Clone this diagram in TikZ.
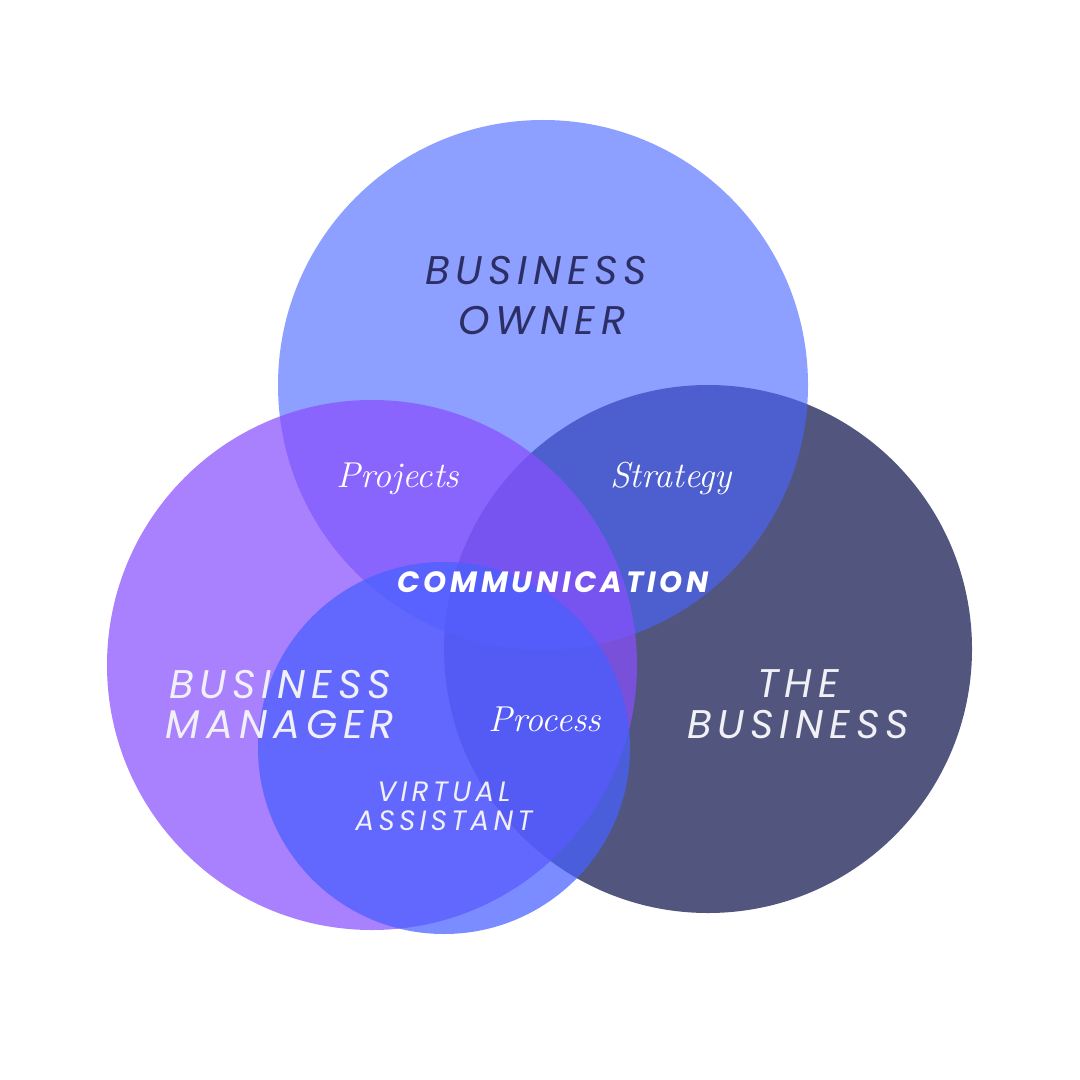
\documentclass[tikz,border=0pt]{standalone}
\usepackage{fontspec}
\newfontfamily\capsfont[LetterSpace=15]{Poppins}
\newfontfamily\commfont[LetterSpace=13]{Poppins}
\newfontfamily\handfont{Latin Modern Roman}
\usetikzlibrary{positioning}

\begin{document}
\begin{tikzpicture}[x=0.75pt,y=0.75pt,yscale=-1,xscale=1,
  biglbl/.style={font=\capsfont\itshape\fontsize{30}{32}\selectfont, text={rgb,255:red,240;green,240;blue,246}, inner sep=0.75pt, anchor=base},
  smalllbl/.style={font=\capsfont\itshape\fontsize{21}{23}\selectfont, text={rgb,255:red,240;green,240;blue,246}, inner sep=0.75pt, anchor=base},
  handlbl/.style={font=\handfont\itshape\fontsize{27}{29}\selectfont, text=white, inner sep=0.75pt, anchor=base}]
%set diagram as a square of 1080
\fill [white] (0,0) rectangle (1080,1080);

%Shape: Circle [the business]
\fill [color={rgb, 255:red, 82; green, 86; blue, 127 }] (708,649) circle (264);
%Shape: Circle [business owner]
\fill [color={rgb, 255:red, 74; green, 102; blue, 255 }, fill opacity=0.62] (543,385) circle (265);
%Shape: Circle [business manager]
\fill [color={rgb, 255:red, 136; green, 79; blue, 253 }, fill opacity=0.72] (372,665) circle (265);
%Shape: Circle [virtual assistant]
\fill [color={rgb, 255:red, 71; green, 96; blue, 255 }, fill opacity=0.72] (444,748) circle (186);

% Text Node
\draw (536,285) node (ownerA) [biglbl, text={rgb, 255:red, 44; green, 47; blue, 102 }] {BUSINESS};
% Text Node
\draw (542,334) node (ownerB) [biglbl, text={rgb, 255:red, 44; green, 47; blue, 102 }] {OWNER};
% Text Node
\draw (280,698) node (managerA) [biglbl] {BUSINESS};
% Text Node
\draw (280,738) node (managerB) [biglbl] {MANAGER};
% Text Node
\draw (798,697) node (businessA) [biglbl] {THE};
% Text Node
\draw (798,738) node (businessB) [biglbl] {BUSINESS};
% Text Node
\draw (444,801) node (assistantA) [smalllbl] {VIRTUAL};
% Text Node
\draw (444,830) node (assistantB) [smalllbl] {ASSISTANT};
% Text Node
\draw (553,592) node (comm) [smalllbl, font=\commfont\bfseries\itshape\fontsize{22}{24}\selectfont, text=white] {COMMUNICATION};
% Text Node
\draw (398,487) node (projects) [handlbl] {Projects};
% Text Node
\draw (671,487) node (strategy) [handlbl] {Strategy};
% Text Node
\draw (545,731) node (process) [handlbl] {Process};

\end{tikzpicture}
\end{document}
